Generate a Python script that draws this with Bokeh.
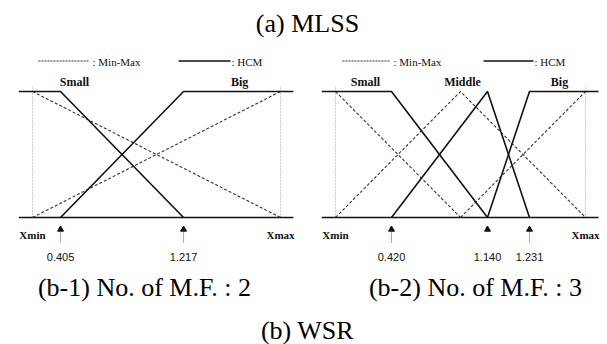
from bokeh.plotting import figure
from bokeh.models import Range1d
from bokeh.embed import file_html
from bokeh.resources import INLINE
from bokeh.core.properties import value

# ---------------- data ----------------
# schematic input axis of each panel: Xmin = 0, Xmax = 1
universe = [-0.055, 1.052]          # extent of the drawn universe line

b1_tick_labels = ["0.405", "1.217"]
b1_tick_pos = [0.113, 0.609]
b1_stem = [True, True]
b1_terms = ["Small", "Big"]

b2_tick_labels = ["0.420", "1.140", "1.231"]
b2_tick_pos = [0.224, 0.608, 0.776]
b2_stem = [True, False, True]
b2_terms = ["Small", "Middle", "Big"]

# Min-Max membership functions (x breakpoints, membership)
b1_mm = [([0.0, 1.0], [1, 0]), ([0.0, 1.0], [0, 1])]
b2_mm = [([0.0, 0.5], [1, 0]), ([0.0, 0.5, 1.0], [0, 1, 0]), ([0.5, 1.0], [0, 1])]

# HCM membership functions
b1_hcm = [([universe[0], b1_tick_pos[0], b1_tick_pos[1]], [1, 1, 0]),
          ([b1_tick_pos[0], b1_tick_pos[1], universe[1]], [0, 1, 1])]
b2_hcm = [([universe[0], b2_tick_pos[0], b2_tick_pos[1]], [1, 1, 0]),
          ([b2_tick_pos[0], b2_tick_pos[1], b2_tick_pos[2]], [0, 1, 0]),
          ([b2_tick_pos[1], b2_tick_pos[2], universe[1]], [0, 1, 1])]

main_title = "(a) MLSS"
captions = ["(b-1) No. of M.F. : 2", "(b-2) No. of M.F. : 3"]
bottom_title = "(b) WSR"

# ---------------- layout ----------------
W, H = 607, 344
X0, Y0 = 0, 0
p = figure(width=W, height=H, output_backend="svg", toolbar_location=None,
           x_range=Range1d(X0, X0 + W), y_range=Range1d(Y0 + H, Y0),
           min_border=0, outline_line_color=None)
p.xaxis.visible = False
p.yaxis.visible = False
p.grid.visible = False
p.background_fill_color = "white"
p.border_fill_color = "white"

BASE, TOP = 217.0, 91.0
panels = {"b1": (32.0, 280.0), "b2": (335.0, 585.0)}
for name, (a, b) in panels.items():
    s = b - a
    p.extra_x_ranges[name] = Range1d((X0 - a) / s, (X0 + W - a) / s)
hs = BASE - TOP
p.extra_y_ranges["mu"] = Range1d((BASE - (Y0 + H)) / hs, (BASE - Y0) / hs)

SERIF = value("Liberation Serif, Times New Roman, serif")
SANS = value("Liberation Sans, Arial, sans-serif")
INK = "#111111"


def panel(name, mm, hcm, terms, term_pos, ticks, tick_pos, stems):
    kw = dict(x_range_name=name, y_range_name="mu")
    for xv in (0.0, 1.0):
        p.line([xv, xv], [0, 1.05], line_color="#9a9a9a", line_width=1,
               line_dash="1 2", **kw)
    p.line(universe, [0, 0], line_color=INK, line_width=1.6, **kw)
    for xs, ys in mm:
        p.line(xs, ys, line_color="#333333", line_width=1.1, line_dash="3 2", **kw)
    for xs, ys in hcm:
        p.line(xs, ys, line_color=INK, line_width=1.6, **kw)
    p.text(term_pos, [1.075] * len(terms), text=terms, text_font=SERIF,
           text_font_size="12px", text_font_style="bold", text_align="center",
           text_baseline="middle", text_color=INK, **kw)
    p.text([0.0, 1.0], [-0.135, -0.135], text=["Xmin", "Xmax"], text_font=SERIF,
           text_font_size="11px", text_font_style="bold", text_align="center",
           text_baseline="middle", text_color=INK, **kw)
    p.scatter(tick_pos, [-0.095] * len(tick_pos), marker="triangle", size=6,
              fill_color=INK, line_color=INK, **kw)
    for xv, st in zip(tick_pos, stems):
        if st:
            p.line([xv, xv], [-0.11, -0.2], line_color="#555555", line_width=1,
                   line_dash="1 1", **kw)
    p.text(tick_pos, [-0.31] * len(tick_pos), text=ticks, text_font=SANS,
           text_font_size="11px", text_align="center", text_baseline="middle",
           text_color=INK, **kw)


panel("b1", b1_mm, b1_hcm, b1_terms, [0.169, 0.835], b1_tick_labels, b1_tick_pos, b1_stem)
panel("b2", b2_mm, b2_hcm, b2_terms, [0.12, 0.508, 0.896], b2_tick_labels, b2_tick_pos, b2_stem)

# legends (page coordinates)
for (d0, d1, t1, s0, s1, t2) in [(38, 88, 92, 178, 230, 231), (342, 390, 393, 483, 533, 534)]:
    p.line([d0, d1], [60.5, 60.5], line_color="#333333", line_width=1, line_dash="2 1")
    p.line([s0, s1], [60.5, 60.5], line_color=INK, line_width=1.6)
    p.text([t1, t2], [61, 61], text=[": Min-Max", ": HCM"], text_font=SERIF,
           text_font_size="11px", text_align="left", text_baseline="middle",
           text_color=INK)

# titles and captions
p.text([307], [23], text=[main_title], text_font=SERIF, text_font_size="26px",
       text_align="center", text_baseline="middle", text_color="#000000")
p.text([144, 475], [287, 287], text=captions, text_font=SERIF, text_font_size="26px",
       text_align="center", text_baseline="middle", text_color="#000000")
p.text([307], [330], text=[bottom_title], text_font=SERIF, text_font_size="26px",
       text_align="center", text_baseline="middle", text_color="#000000")

open("out.html", "w").write(file_html(p, INLINE))
